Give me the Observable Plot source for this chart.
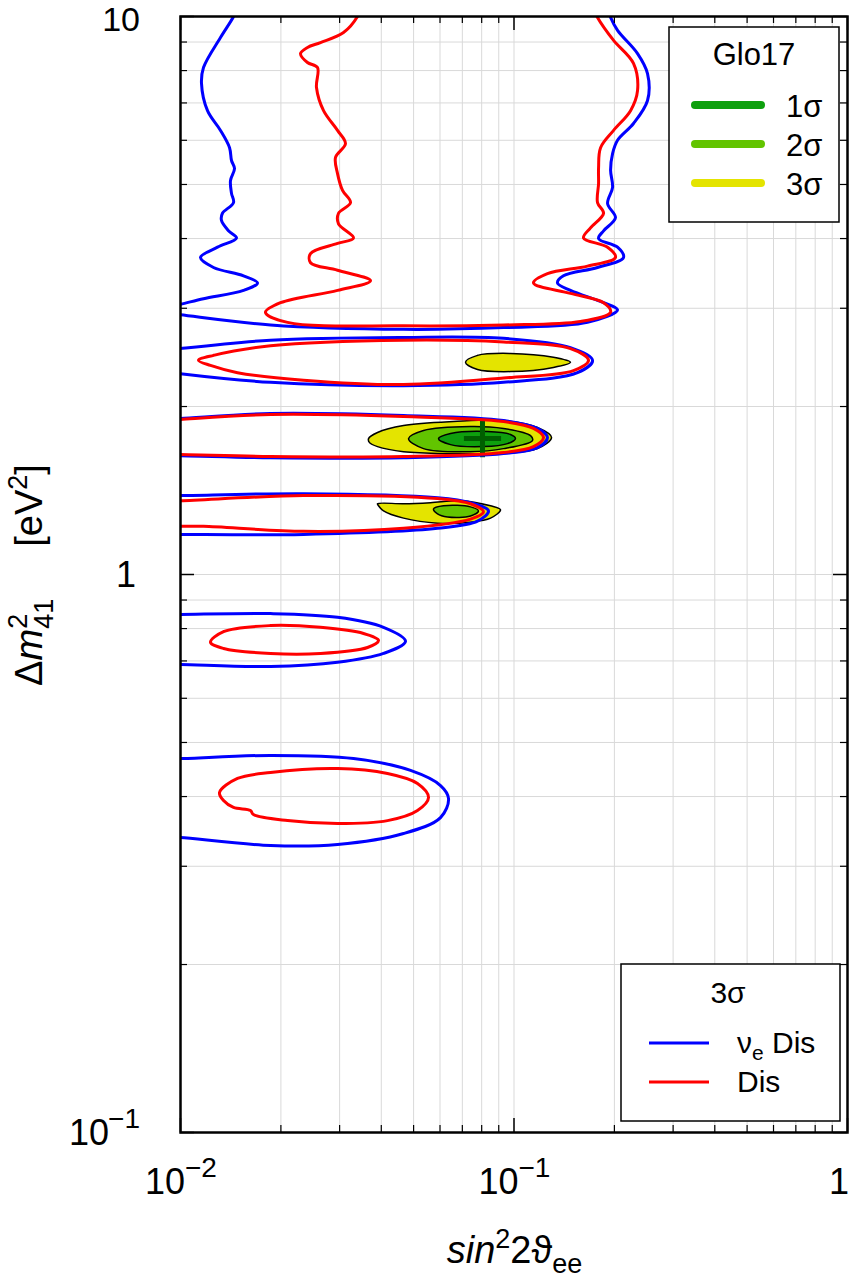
<!DOCTYPE html>
<html>
<head>
<meta charset="utf-8">
<script src="https://cdn.jsdelivr.net/npm/d3@7"></script>
<script src="https://cdn.jsdelivr.net/npm/@observablehq/plot@0.6"></script>
<style>
  html, body { margin: 0; padding: 0; background: #fff; }
  #chart svg { display: block; }
</style>
</head>
<body>
<div id="chart"></div>
<script>
// ---- tick values ----
const xMajor = [0.01, 0.1, 1];
const yMajor = [0.1, 1, 10];
const xMinor = [0.02, 0.03, 0.04, 0.05, 0.06, 0.07, 0.08, 0.09, 0.2, 0.3, 0.4, 0.5, 0.6, 0.7, 0.8, 0.9];
const yMinor = [0.2, 0.3, 0.4, 0.5, 0.6, 0.7, 0.8, 0.9, 2, 3, 4, 5, 6, 7, 8, 9];
const xTickLabels = [["10", "\u22122"], ["10", "\u22121"], ["1", ""]];
const yTickLabels = [["10", "\u22121"], ["1", ""], ["10", ""]];

// ---- legend entries ----
const gloLevels = ["1\u03c3", "2\u03c3", "3\u03c3"];
const gloColors = ["#0ea00e", "#62c400", "#e4e400"];
const disNames = ["\u03bd_e Dis", "Dis"];
const disColors = ["#0000ff", "#ff0000"];

// ---- 3σ contours, ν_e disappearance (blue) ----  [sin²2θ, Δm²]
const nueTop = [[0.01472,10.33],[0.01442,10.0],[0.01318,9.17],[0.01172,8.10],[0.01156,7.59],[0.01205,6.78],[0.01318,6.25],[0.01403,5.82],[0.01422,5.52],[0.01452,5.34],[0.01412,5.08],[0.01422,4.82],[0.01442,4.64],[0.01336,4.44],[0.01327,4.31],[0.01393,4.13],[0.01472,4.01],[0.01291,3.86],[0.01148,3.70],[0.01256,3.55],[0.01545,3.43],[0.01702,3.33],[0.01545,3.23],[0.01172,3.12],[0.0100,3.05],[0.00902,3.01],[0.00902,2.94],[0.0100,2.92],[0.01862,2.80],[0.04664,2.75],[0.09302,2.77],[0.1661,2.83],[0.2044,2.98],[0.1856,3.07],[0.1477,3.23],[0.1350,3.33],[0.1407,3.43],[0.1780,3.55],[0.2130,3.70],[0.2044,3.86],[0.1793,4.00],[0.1856,4.13],[0.2015,4.36],[0.1908,4.62],[0.1975,4.94],[0.1948,5.30],[0.1975,5.68],[0.2044,6.00],[0.2282,6.43],[0.2514,7.07],[0.2514,7.90],[0.2347,8.58],[0.2044,9.44],[0.1948,9.96],[0.1908,10.33]];
const nueBand2 = [[0.00902,2.52],[0.0100,2.54],[0.01862,2.63],[0.04664,2.66],[0.09302,2.65],[0.1477,2.55],[0.1720,2.42],[0.1550,2.30],[0.09302,2.21],[0.04664,2.18],[0.01862,2.21],[0.0100,2.29],[0.00902,2.31]];
const nueBand3 = [[0.00902,1.90],[0.0100,1.904],[0.01862,1.943],[0.04664,1.927],[0.09302,1.888],[0.1176,1.827],[0.1260,1.760],[0.1176,1.688],[0.09302,1.647],[0.04664,1.619],[0.01862,1.619],[0.0100,1.633],[0.00902,1.633]];
const nueBand4 = [[0.00902,1.385],[0.0100,1.385],[0.02338,1.396],[0.05898,1.373],[0.07406,1.345],[0.08385,1.300],[0.07773,1.246],[0.05898,1.210],[0.02338,1.180],[0.0100,1.180],[0.00902,1.180]];
const nueBand5 = [[0.00902,0.848],[0.0100,0.848],[0.01862,0.851],[0.02957,0.838],[0.04062,0.804],[0.04729,0.759],[0.04062,0.722],[0.02957,0.696],[0.01862,0.684],[0.0100,0.690],[0.00902,0.690]];
const nueBand6 = [[0.00902,0.468],[0.0100,0.468],[0.01862,0.474],[0.03302,0.468],[0.04895,0.4455],[0.06021,0.4186],[0.06363,0.3968],[0.06021,0.3667],[0.04664,0.3434],[0.02957,0.3282],[0.01862,0.3268],[0.0100,0.3378],[0.00902,0.339]];

// ---- 3σ contours, all disappearance data (red) ----
const disTop = [[0.03465,10.33],[0.03394,10.0],[0.03082,9.36],[0.02629,8.98],[0.02403,8.80],[0.02290,8.58],[0.02403,8.27],[0.02575,8.10],[0.02557,7.46],[0.02685,6.78],[0.02957,6.25],[0.03124,5.92],[0.02916,5.59],[0.02957,5.23],[0.03061,4.88],[0.03234,4.64],[0.02977,4.44],[0.02977,4.25],[0.03302,4.01],[0.02957,3.92],[0.02454,3.76],[0.02454,3.62],[0.02957,3.51],[0.03714,3.36],[0.02957,3.23],[0.01995,3.07],[0.01798,2.95],[0.02094,2.83],[0.04664,2.79],[0.09302,2.80],[0.1582,2.84],[0.1948,2.95],[0.1856,3.07],[0.1477,3.19],[0.1144,3.33],[0.1260,3.46],[0.1661,3.57],[0.2015,3.70],[0.1908,3.86],[0.1616,4.01],[0.1696,4.18],[0.1856,4.44],[0.1780,4.64],[0.1793,5.02],[0.1793,5.36],[0.1818,5.82],[0.1989,6.25],[0.2236,6.78],[0.2347,7.37],[0.2282,8.24],[0.1989,9.06],[0.1780,9.96],[0.1732,10.33]];
const disBand2 = [[0.01132,2.42],[0.01256,2.47],[0.01862,2.57],[0.04664,2.63],[0.09302,2.61],[0.1477,2.54],[0.1673,2.42],[0.1508,2.32],[0.09302,2.25],[0.04664,2.19],[0.02338,2.23],[0.01482,2.30],[0.01230,2.37]];
const disBand3 = [[0.00902,1.888],[0.0100,1.896],[0.01862,1.935],[0.04664,1.919],[0.09302,1.880],[0.1144,1.827],[0.1226,1.760],[0.1144,1.695],[0.09302,1.654],[0.04664,1.627],[0.01862,1.627],[0.0100,1.640],[0.00902,1.640]];
const disBand4 = [[0.00902,1.356],[0.0100,1.356],[0.02338,1.385],[0.05898,1.368],[0.07406,1.339],[0.08101,1.295],[0.07406,1.257],[0.04664,1.210],[0.02338,1.195],[0.01172,1.220],[0.0100,1.220],[0.00902,1.220]];
const disBand5 = [[0.01230,0.756],[0.01346,0.790],[0.01862,0.810],[0.02629,0.804],[0.03538,0.784],[0.03924,0.762],[0.03637,0.740],[0.02629,0.722],[0.01862,0.722],[0.01346,0.737]];
const disBand6 = [[0.01309,0.4067],[0.01482,0.4310],[0.01862,0.4418],[0.02957,0.449],[0.04176,0.4400],[0.05136,0.4222],[0.05542,0.3984],[0.05136,0.3776],[0.04176,0.3622],[0.02957,0.3578],[0.02094,0.3622],[0.01655,0.3713],[0.01621,0.3776],[0.01442,0.3824],[0.01346,0.3935]];

// ---- Glo17 allowed regions ----
const glo3Upper = [[0.07155,2.40],[0.07773,2.47],[0.09761,2.49],[0.1313,2.45],[0.1477,2.40],[0.1313,2.35],[0.09761,2.31],[0.07773,2.33]];
const glo3Main = [[0.03663,1.752],[0.03897,1.797],[0.04664,1.849],[0.06587,1.880],[0.09302,1.888],[0.1176,1.834],[0.1296,1.760],[0.1176,1.681],[0.09302,1.647],[0.06587,1.647],[0.04664,1.660],[0.03897,1.695],[0.03688,1.723]];
const glo2Main = [[0.04828,1.752],[0.05354,1.812],[0.07406,1.842],[0.09302,1.827],[0.1121,1.774],[0.1136,1.738],[0.09302,1.681],[0.07406,1.660],[0.05354,1.681]];
const glo1Main = [[0.05939,1.752],[0.06452,1.789],[0.08327,1.804],[0.09761,1.782],[0.1010,1.752],[0.09561,1.716],[0.08101,1.695],[0.06452,1.709]];
const glo3Lower = [[0.03897,1.339],[0.04664,1.339],[0.05619,1.345],[0.06912,1.356],[0.08505,1.328],[0.09111,1.306],[0.08505,1.262],[0.07406,1.241],[0.05898,1.236],[0.04664,1.262],[0.04062,1.300],[0.03924,1.328]];
const glo2Lower = [[0.05737,1.311],[0.06147,1.328],[0.07406,1.322],[0.07827,1.300],[0.07406,1.273],[0.06319,1.268],[0.05898,1.284]];
const bestFit = [[0.08045, 1.752]];

// ---- layout ----
const W = 850, H = 1282;
const mL = 180, mR = 3, mT = 16, mB = 150;
const innerW = W - mL - mR, innerH = H - mT - mB;
const FONT = '"Liberation Sans", Arial, Helvetica, sans-serif';

const px = d => d[0], py = d => d[1];
const contour = (pts, color, closed) =>
  Plot.line(pts, {x: px, y: py, stroke: color, strokeWidth: 3,
    curve: closed ? "catmull-rom-closed" : "catmull-rom", clip: true});
const region = (pts, color) =>
  Plot.line(pts, {x: px, y: py, fill: color, stroke: "black", strokeWidth: 1.5,
    curve: "catmull-rom-closed", clip: true});

const plot = Plot.plot({
  width: W, height: H,
  marginLeft: mL, marginRight: mR, marginTop: mT, marginBottom: mB,
  style: {background: "white", fontFamily: FONT},
  x: {type: "log", domain: [0.01, 1], axis: null},
  y: {type: "log", domain: [0.1, 10], axis: null},
  marks: [
    // grid
    Plot.ruleX([...xMinor, 0.1], {x: d => d, stroke: "#d9d9d9", strokeWidth: 1}),
    Plot.ruleY([...yMinor, 1], {y: d => d, stroke: "#d9d9d9", strokeWidth: 1}),
    // Glo17 regions
    region(glo3Upper, gloColors[2]),
    region(glo3Main, gloColors[2]),
    region(glo2Main, gloColors[1]),
    region(glo1Main, gloColors[0]),
    region(glo3Lower, gloColors[2]),
    region(glo2Lower, gloColors[1]),
    Plot.dot(bestFit, {x: px, y: py, symbol: "plus", r: 12, stroke: "#005f00", strokeWidth: 5, strokeLinecap: "butt"}),
    // ν_e Dis contours
    contour(nueTop, disColors[0], false),
    contour(nueBand2, disColors[0], false),
    contour(nueBand3, disColors[0], false),
    contour(nueBand4, disColors[0], false),
    contour(nueBand5, disColors[0], false),
    contour(nueBand6, disColors[0], false),
    // Dis contours
    contour(disTop, disColors[1], false),
    contour(disBand2, disColors[1], true),
    contour(disBand3, disColors[1], false),
    contour(disBand4, disColors[1], false),
    contour(disBand5, disColors[1], true),
    contour(disBand6, disColors[1], true),
    // inward ticks on all four sides
    Plot.tickX(xMajor, {x: d => d, insetTop: innerH - 14, stroke: "black", strokeWidth: 1.5}),
    Plot.tickX(xMajor, {x: d => d, insetBottom: innerH - 14, stroke: "black", strokeWidth: 1.5}),
    Plot.tickX(xMinor, {x: d => d, insetTop: innerH - 7, stroke: "black", strokeWidth: 1.2}),
    Plot.tickX(xMinor, {x: d => d, insetBottom: innerH - 7, stroke: "black", strokeWidth: 1.2}),
    Plot.tickY(yMajor, {y: d => d, insetRight: innerW - 14, stroke: "black", strokeWidth: 1.5}),
    Plot.tickY(yMajor, {y: d => d, insetLeft: innerW - 14, stroke: "black", strokeWidth: 1.5}),
    Plot.tickY(yMinor, {y: d => d, insetRight: innerW - 7, stroke: "black", strokeWidth: 1.2}),
    Plot.tickY(yMinor, {y: d => d, insetLeft: innerW - 7, stroke: "black", strokeWidth: 1.2}),
    Plot.frame({stroke: "black", strokeWidth: 2.5})
  ]
});

document.getElementById("chart").appendChild(plot);

// ---- text with super/subscripts ----
const svg = d3.select(plot);
const xs = plot.scale("x"), ys = plot.scale("y");

function richText(parent, x, y, parts, {size = 36, anchor = "start", transform = null} = {}) {
  const t = parent.append("text")
    .attr("x", x).attr("y", y)
    .attr("font-family", FONT).attr("font-size", size)
    .attr("text-anchor", anchor).attr("fill", "black");
  if (transform) t.attr("transform", transform);
  for (const p of parts) {
    const s = t.append("tspan").text(p.t);
    if (p.italic) s.attr("font-style", "italic");
    if (p.size) s.attr("font-size", p.size);
    if (p.dx) s.attr("dx", p.dx);
    if (p.dy) s.attr("dy", p.dy);
  }
  return t;
}

const labels = svg.append("g");
const EXP = 28;

// x tick labels
xMajor.forEach((v, i) => {
  const [base, exp] = xTickLabels[i];
  const cx = xs.apply(v);
  const by = ys.range[0] + 62;
  if (exp) {
    richText(labels, cx + 5, by, [{t: base}], {anchor: "end"});
    richText(labels, cx + 5, by - 17, [{t: exp}], {size: EXP});
  } else {
    richText(labels, W - 1, by, [{t: base}], {anchor: "end"});
  }
});

// y tick labels
yMajor.forEach((v, i) => {
  const [base, exp] = yTickLabels[i];
  const cy = ys.apply(v) + 13;
  const right = xs.range[0] - 40;
  if (exp) {
    richText(labels, right, cy - 17, [{t: exp}], {size: EXP, anchor: "end"});
    richText(labels, right - 31, cy, [{t: base}], {anchor: "end"});
  } else if (base === "10") {
    richText(labels, right, Math.max(cy, 31), [{t: base}], {anchor: "end", size: 34});
  } else {
    richText(labels, right - 4, cy, [{t: base}], {anchor: "end"});
  }
});

// x axis title: sin²2ϑ_ee
richText(labels, (xs.range[0] + xs.range[1]) / 2 + 1, ys.range[0] + 131, [
  {t: "sin", italic: true},
  {t: "2", size: 27, dy: -15},
  {t: "2", dy: 15},
  {t: "\u03d1"},
  {t: "ee", size: 27, dy: 10}
], {size: 38, anchor: "middle"});

// y axis title: Δm²₄₁ [eV²]
richText(labels, 0, 0, [
  {t: "\u0394"},
  {t: "m", italic: true},
  {t: "2", size: 27, dy: -15},
  {t: "41", size: 27, dx: -15, dy: 26},
  {t: "[eV", dx: 52, dy: -11},
  {t: "2", size: 27, dy: -15},
  {t: "]", dy: 15}
], {size: 38, anchor: "middle", transform: `translate(42,${(ys.range[0] + ys.range[1]) / 2 + 1}) rotate(-90)`});

// ---- legends ----
const fr = xs.range[1], ft = ys.range[1], fb = ys.range[0];

// Glo17 legend (top right)
const lg1 = svg.append("g");
const b1 = {x: fr - 178, y: ft + 11, w: 170, h: 195};
lg1.append("rect").attr("x", b1.x).attr("y", b1.y).attr("width", b1.w).attr("height", b1.h)
  .attr("fill", "white").attr("stroke", "black").attr("stroke-width", 1.5);
richText(lg1, b1.x + b1.w / 2, b1.y + 38, [{t: "Glo17"}], {size: 31, anchor: "middle"});
gloLevels.forEach((name, i) => {
  const yy = b1.y + 78 + i * 39;
  lg1.append("line").attr("x1", b1.x + 26).attr("x2", b1.x + 92).attr("y1", yy).attr("y2", yy)
    .attr("stroke", gloColors[i]).attr("stroke-width", 8).attr("stroke-linecap", "round");
  richText(lg1, b1.x + 117, yy + 12, [{t: name}], {size: 31});
});

// 3σ legend (bottom right)
const lg2 = svg.append("g");
const b2 = {x: fr - 226, y: fb - 168, w: 219, h: 157};
lg2.append("rect").attr("x", b2.x).attr("y", b2.y).attr("width", b2.w).attr("height", b2.h)
  .attr("fill", "white").attr("stroke", "black").attr("stroke-width", 1.5);
richText(lg2, b2.x + 107, b2.y + 39, [{t: "3\u03c3"}], {size: 30, anchor: "middle"});
disNames.forEach((name, i) => {
  const yy = b2.y + 79 + i * 39;
  lg2.append("line").attr("x1", b2.x + 28).attr("x2", b2.x + 88).attr("y1", yy).attr("y2", yy)
    .attr("stroke", disColors[i]).attr("stroke-width", 3);
  const parts = name.includes("_")
    ? [{t: name.split("_")[0]}, {t: name.split("_")[1].split(" ")[0], size: 21, dy: 7}, {t: " " + name.split(" ")[1], dy: -7}]
    : [{t: name}];
  richText(lg2, b2.x + 116, yy + 10, parts, {size: 30});
});
</script>
</body>
</html>
